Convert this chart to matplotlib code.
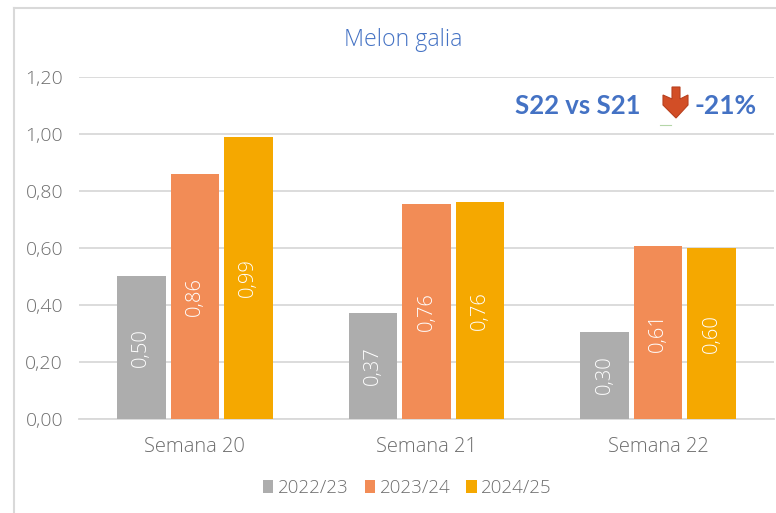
import numpy as np
import matplotlib
matplotlib.use('Agg')
import matplotlib.pyplot as plt
from matplotlib.patches import Polygon
from matplotlib.lines import Line2D

plt.rcParams['font.family'] = ['Open Sans', 'DejaVu Sans']
ligera = 'light'

semanas = ['Semana 20', 'Semana 21', 'Semana 22']
campanas = ['2022/23', '2023/24', '2024/25']
v2022 = [0.50, 0.37, 0.305]
v2023 = [0.858, 0.755, 0.607]
v2024 = [0.99, 0.76, 0.60]
etiq2022 = ['0,50', '0,37', '0,30']
etiq2023 = ['0,86', '0,76', '0,61']
etiq2024 = ['0,99', '0,76', '0,60']
yticks = [0, 0.2, 0.4, 0.6, 0.8, 1.0, 1.2]
ylabels = ['0,00', '0,20', '0,40', '0,60', '0,80', '1,00', '1,20']
colores = ['#ADADAD', '#F28C56', '#F5A800']

W, H = 776, 513
f = plt.figure(figsize=(W/100, H/100), dpi=100)

# posicion de los ejes en pixeles
x0, x1 = 79, 774
ytop, ybot = 77, 418.5
ax = f.add_axes([x0/W, 1-ybot/H, (x1-x0)/W, (ybot-ytop)/H])

x = np.arange(3)
ancho = 0.21
paso = 0.231
series = [v2022, v2023, v2024]
etiquetas = [etiq2022, etiq2023, etiq2024]
for i in range(3):
    pos = x + (i-1)*paso
    ax.bar(pos, series[i], ancho, color=colores[i], label=campanas[i], zorder=3)
    for p, v, t in zip(pos, series[i], etiquetas[i]):
        ax.text(p, v/2, t, rotation=90, color='white', fontsize=14.5, fontweight=ligera,
                ha='center', va='center', zorder=4)

ax.set_xlim(-0.5, 2.5)
ax.set_ylim(0, 1.2)
ax.set_yticks(yticks)
ax.set_yticklabels(ylabels, fontsize=14, color='#6E6E6E', fontweight=ligera)
ax.set_xticks(x)
ax.set_xticklabels(semanas, fontsize=14.5, color='#6E6E6E', fontweight=ligera)
ax.tick_params(length=0)
ax.tick_params(axis='x', pad=13)
ax.tick_params(axis='y', pad=11.5)
ax.grid(axis='y', color='#D9D9D9', linewidth=1.3, zorder=0)
ax.set_axisbelow(True)
for s in ['top', 'right', 'left']:
    ax.spines[s].set_visible(False)
ax.spines['bottom'].set_color('#D9D9D9')
ax.spines['bottom'].set_linewidth(1.3)

# marco exterior
f.add_artist(Line2D([14/W, 14/W], [0, 1-8/H], color='#D9D9D9', lw=1.5))
f.add_artist(Line2D([14/W, 1], [1-8/H, 1-8/H], color='#D9D9D9', lw=1.5))

f.text(403.5/W, 1-40/H, 'Melon galia', fontsize=16.7, color='#4472C4', ha='center', va='center', fontweight=ligera)
f.text(578/W, 1-106/H, 'S22 vs S21', fontsize=18.5, color='#4472C4', fontweight='bold', ha='center', va='center',
       family='Lato')
f.text(726/W, 1-106/H, '-21%', fontsize=19, color='#4472C4', fontweight='bold', ha='center', va='center',
       family='Lato')

# flecha roja
flecha = [(672, 87), (680, 87), (680, 99), (688, 95), (688, 105), (676, 118), (663, 105), (663, 95), (672, 99)]
f.add_artist(Polygon([(a/W, 1-b/H) for a, b in flecha], closed=True, transform=f.transFigure,
                     facecolor='#D24E26', edgecolor='#B8401E', linewidth=0.8))
f.add_artist(Line2D([660/W, 671/W], [1-125/H, 1-125/H], color='#B5D6A8', lw=0.8))

# leyenda
h, l = ax.get_legend_handles_labels()
f.legend(h, l, loc='center', bbox_to_anchor=(407.5/W, 1-488/H), ncol=3, frameon=False,
         labelcolor='#6E6E6E', handlelength=0.55, handleheight=0.7, handletextpad=0.25, columnspacing=0.85,
         prop={'weight': ligera, 'size': 13.5})

f.savefig('out.png', dpi=100)
